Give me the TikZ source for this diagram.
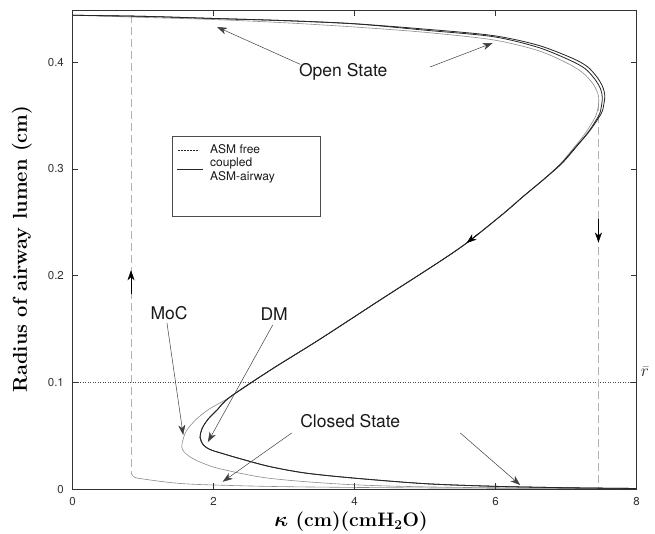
\documentclass[tikz,border=0pt]{standalone}
\usepackage{fontspec}
\usepackage{amsmath,bm}
\newfontfamily\hv{TeX Gyre Heros}
\usetikzlibrary{arrows.meta}
\tikzset{
  axisline/.style={black!80, line width=0.8pt},
  tickline/.style={black!80, line width=0.6pt},
  ticklab/.style={font=\hv\fontsize{11.5}{12}\selectfont, text=black!80, inner sep=0pt},
  annot/.style={font=\hv\fontsize{17.5}{19}\selectfont, text=black!90, inner sep=0pt},
  arr/.style={-{Stealth[length=10pt,width=7pt,inset=3pt]}, black!75, line width=0.5pt},
  blkcurve/.style={black!85, line width=0.8pt},
  graycurve/.style={black!45, line width=0.6pt},
  vdash/.style={black!30, line width=0.8pt, dash pattern=on 8pt off 4pt},
  legtext/.style={font=\hv\fontsize{12}{13}\selectfont, text=black!90, inner sep=0pt, anchor=west},
}
\begin{document}
\begin{tikzpicture}[x=1pt,y=-1pt]
\useasboundingbox (0,0) rectangle (655,533);
\fill[white] (0,0) rectangle (655,533);
\begin{scope}[shift={(72.5,489)}, x=70.5pt, y=1067pt]
  % reference line r-bar
  \draw[dotted, black!70, line width=0.5pt] (0,0.1) -- (8,0.1);
  % dashed jump lines
  \coordinate (lt) at (0.83,0.444);
  \coordinate (lb) at (0.83,0.015);
  \coordinate (rt) at (7.46,0.362);
  \coordinate (rb) at (7.46,0.002);
  \draw[vdash] (lt) -- (lb);
  \draw[vdash] (rt) -- (rb);
  \coordinate (la0) at (0.83,0.183);
  \coordinate (la1) at (0.83,0.205);
  \coordinate (ra0) at (7.46,0.2535);
  \coordinate (ra1) at (7.46,0.231);
  \draw[arr, black] (la0) -- (la1);
  \draw[arr, black] (ra0) -- (ra1);
  % lower-left gray branch
  \draw[graycurve] plot[smooth, tension=0.5] coordinates {(0.83,0.015) (0.88,0.011) (1.0,0.0094) (1.4,0.006) (1.81,0.0042) (3,0.0022) (5,0.001) (8,0.0003)};
  % gray curve (MoC)
  \draw[graycurve] plot[smooth, tension=0.5] coordinates {(0,0.444) (1,0.442) (2,0.440) (3,0.437) (4,0.433) (5,0.428) (5.96,0.421) (6.6,0.411) (7.02,0.399) (7.24,0.39) (7.38,0.38) (7.45,0.371) (7.465,0.364) (7.45,0.356) (7.41,0.348) (7.27,0.333) (7.1,0.319) (6.91,0.304) (6.68,0.29) (6.39,0.274) (6.11,0.258) (5.60,0.231) (5.17,0.2115) (4.36,0.177) (3.5,0.14) (2.82,0.112) (2.23,0.086) (1.94,0.075) (1.75,0.065) (1.62,0.055) (1.57,0.047) (1.55,0.0396) (1.58,0.035) (1.67,0.030) (1.82,0.025) (2.09,0.019) (2.8,0.010) (3.98,0.004) (5.5,0.0015) (8,0.0003)};
  % black curve (middle)
  \draw[blkcurve] plot[smooth, tension=0.5] coordinates {(0,0.444) (1,0.443) (2,0.441) (3,0.439) (4,0.436) (5,0.430) (5.96,0.424) (6.6,0.414) (7.05,0.402) (7.27,0.394) (7.41,0.384) (7.49,0.375) (7.515,0.367) (7.50,0.358) (7.465,0.35) (7.31,0.334) (7.13,0.32) (6.93,0.305) (6.68,0.29) (6.39,0.274) (6.11,0.258) (5.60,0.231) (5.17,0.2115) (4.36,0.177) (3.5,0.14) (2.82,0.112) (2.23,0.086) (2.05,0.074) (1.93,0.066) (1.84,0.057) (1.81,0.048) (1.86,0.041) (1.95,0.037) (2.09,0.034) (2.4,0.028) (2.8,0.021) (3.3,0.015) (3.98,0.0103) (5,0.005) (6,0.0025) (7,0.0012) (8,0.0005)};
  % black curve (outer)
  \draw[blkcurve] plot[smooth, tension=0.5] coordinates {(0,0.444) (1,0.443) (2,0.441) (3,0.439) (4,0.436) (5,0.431) (5.96,0.425) (6.6,0.416) (7.08,0.404) (7.3,0.396) (7.44,0.386) (7.52,0.377) (7.55,0.369) (7.535,0.36) (7.50,0.352) (7.34,0.336) (7.15,0.321) (6.94,0.305) (6.68,0.29) (6.39,0.274) (6.11,0.258) (5.60,0.231) (5.17,0.2115) (4.36,0.177) (3.5,0.14) (2.82,0.112) (2.23,0.086) (2.05,0.074) (1.93,0.066) (1.84,0.057) (1.81,0.048) (1.86,0.041) (1.95,0.037) (2.09,0.034) (2.4,0.028) (2.8,0.021) (3.3,0.015) (3.98,0.0103) (5,0.005) (6,0.0025) (7,0.0012) (8,0.0005)};
  % arrow on curve
  \coordinate (ca0) at (5.76,0.2395);
  \coordinate (ca1) at (5.59,0.2305);
  \draw[arr, black] (ca0) -- (ca1);
  % axes box
  \draw[axisline] (0,0) rectangle (8,0.449);
  \foreach \k in {2,4,6} {
    \draw[tickline] (\k,0) -- ++(0,0.0055);
    \draw[tickline] (\k,0.449) -- ++(0,-0.0055);
  }
  \foreach \r in {0.1,0.2,0.3,0.4} {
    \draw[tickline] (0,\r) -- ++(0.08,0);
    \draw[tickline] (8,\r) -- ++(-0.08,0);
  }
  \foreach \k in {0,2,4,6,8} {
    \node[ticklab] (xl\k) at (\k,-0.012) {\k};
  }
  \node[ticklab, anchor=east] (yl0) at (-0.12,0) {0};
  \node[ticklab, anchor=east] (yl1) at (-0.12,0.1) {0.1};
  \node[ticklab, anchor=east] (yl2) at (-0.12,0.2) {0.2};
  \node[ticklab, anchor=east] (yl3) at (-0.12,0.3) {0.3};
  \node[ticklab, anchor=east] (yl4) at (-0.12,0.4) {0.4};
  \node[inner sep=0pt, font=\fontsize{18}{19}\selectfont, text=black!85] (rbar) at (8.12,0.11) {$\bar{r}$};
  % annotations
  \node[annot] (open) at (3.84,0.391) {Open State};
  \coordinate (o1) at (2.05,0.433);
  \coordinate (o2) at (5.96,0.418);
  \draw[arr] (3.23,0.398) -- (o1);
  \draw[arr] (5.07,0.3955) -- (o2);
  \node[annot] (closed) at (3.94,0.0633) {Closed State};
  \coordinate (c1) at (2.13,0.0068);
  \coordinate (c2) at (6.35,0.0037);
  \draw[arr] (3.11,0.0525) -- (c1);
  \draw[arr] (5.50,0.0525) -- (c2);
  \node[annot] (moc) at (1.37,0.165) {MoC};
  \coordinate (m1) at (1.57,0.0506);
  \draw[arr] (1.34,0.1556) -- (m1);
  \node[annot] (dm) at (2.86,0.164) {DM};
  \coordinate (d1) at (1.92,0.044);
  \draw[arr] (2.84,0.1537) -- (d1);
\end{scope}
% legend
\draw[black!70, line width=0.5pt, fill=white] (172,136) rectangle (320,216);
\draw[black!85, line width=0.5pt, dash pattern=on 2pt off 1pt] (178,150) -- (199,150);
\draw[black!85, line width=0.5pt] (177,169) -- (203,169);
\node[legtext] (lg1) at (210,149.5) {ASM free};
\node[legtext] (lg2) at (210,163) {coupled};
\node[legtext] (lg3) at (210,177) {ASM-airway};
% axis labels
\node[rotate=90, inner sep=0pt, font=\bfseries\fontsize{20}{22}\selectfont] (ylab) at (22,249) {Radius of airway lumen (cm)};
\node[inner sep=0pt, font=\bfseries\fontsize{19.5}{22}\selectfont] (xlab) at (351,521.5) {$\bm{\kappa}$ (cm)(cmH\textsubscript{2}O)};
\end{tikzpicture}
\end{document}
